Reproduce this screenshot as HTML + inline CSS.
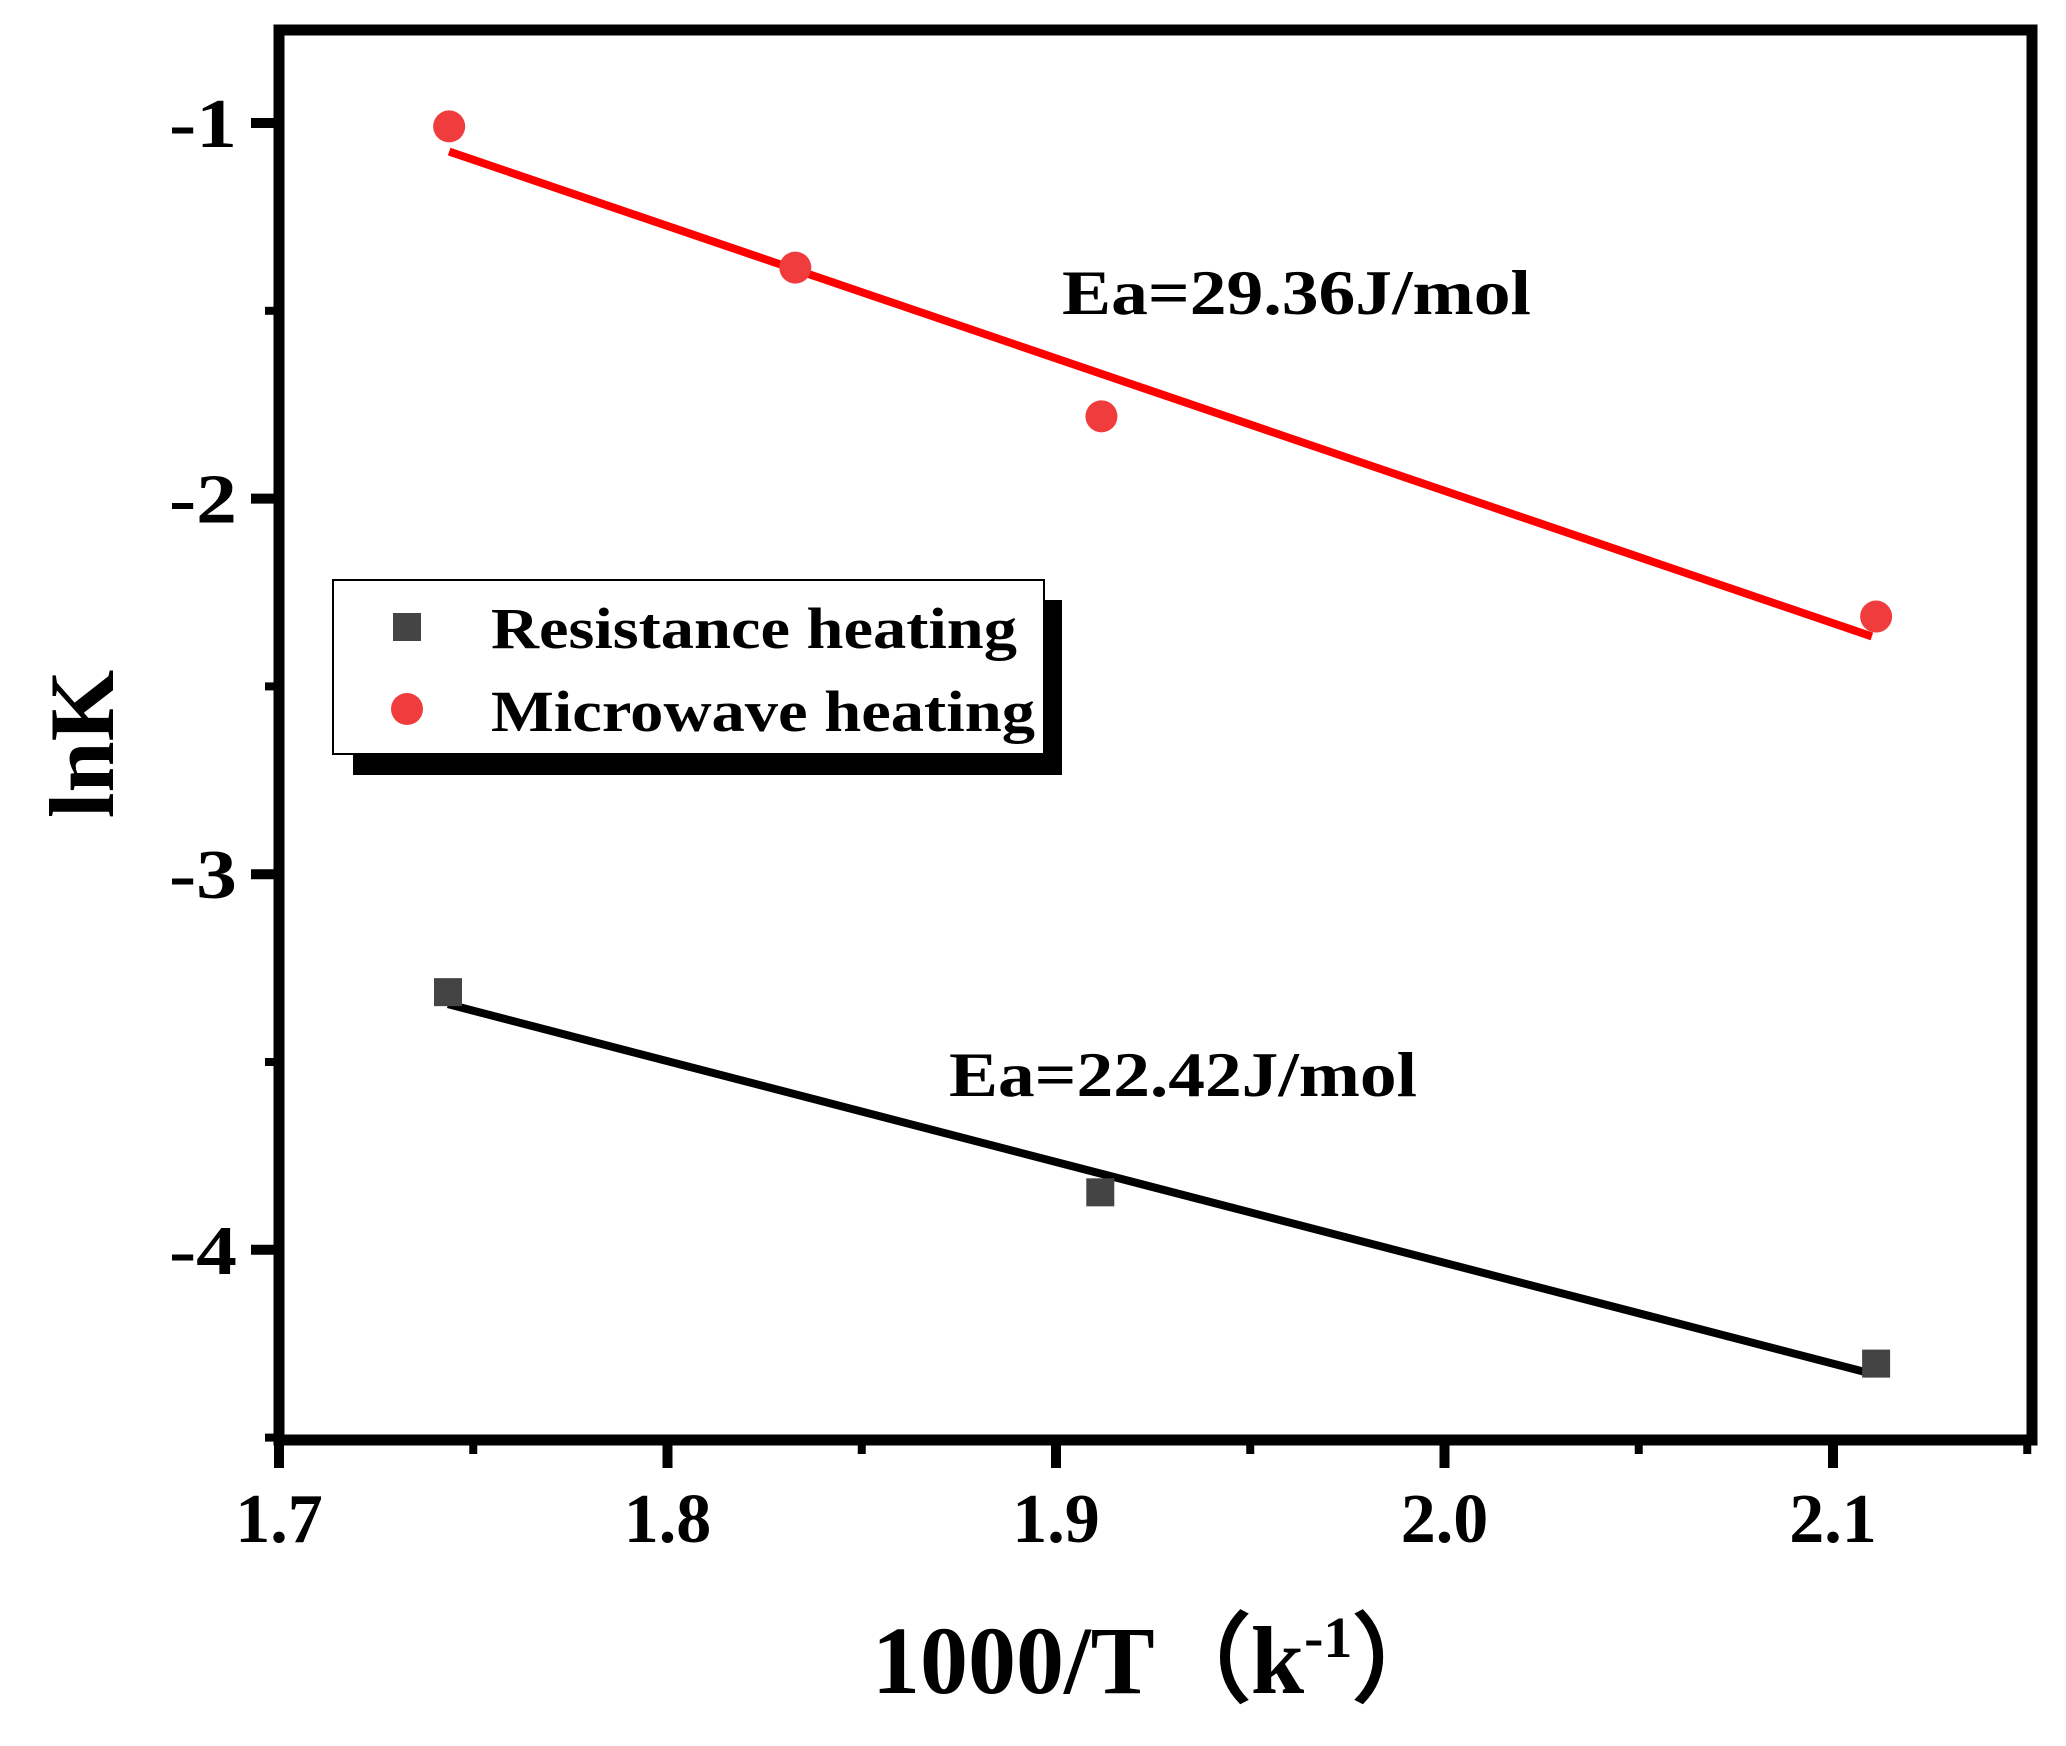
<!DOCTYPE html>
<html><head><meta charset="utf-8"><style>
html,body{margin:0;padding:0;background:#fff;}
svg{display:block;font-family:"Liberation Serif",serif;}
</style></head><body>
<svg id="chart" width="2066" height="1746" viewBox="0 0 2066 1746">
<rect x="0" y="0" width="2066" height="1746" fill="#fff"/>
<g id="marks"></g>
<g id="axes"></g>
</svg>
<script>
const xTicks = [1.7, 1.8, 1.9, 2.0, 2.1];
const xTickLabels = ["1.7", "1.8", "1.9", "2.0", "2.1"];
const yTicks = [-1, -2, -3, -4];
const yTickLabels = ["-1", "-2", "-3", "-4"];
const microX = [1.7438, 1.8329, 1.9117, 2.1111];
const microY = [-1.009, -1.385, -1.781, -2.314];
const microFit = [[1.7438, -1.076], [2.11, -2.367]];
const resistX = [1.7435, 1.9114, 2.1111];
const resistY = [-3.314, -3.847, -4.303];
const resistFit = [[1.7435, -3.346], [2.11, -4.330]];

const L = 279, R = 2032, T = 30, B = 1440;
const X0 = 1.7, XS = 3885;
const Y0 = -1, YP = 123, YS = 375.6;
function sx(v){ return L + (v - X0) * XS; }
function sy(v){ return YP + (Y0 - v) * YS; }
const NS = "http://www.w3.org/2000/svg";
function mk(tag, attrs, parent, text){
  const e = document.createElementNS(NS, tag);
  for (const k in attrs) e.setAttribute(k, attrs[k]);
  if (text !== undefined) e.textContent = text;
  parent.appendChild(e);
  return e;
}
const marks = document.getElementById('marks');
const axes = document.getElementById('axes');

let l1 = mk('line', {x1: sx(microFit[0][0]), y1: sy(microFit[0][1]), x2: sx(microFit[1][0]), y2: sy(microFit[1][1]), stroke: '#ff0000', 'stroke-width': 8}, marks);


let l2 = mk('line', {x1: sx(resistFit[0][0]), y1: sy(resistFit[0][1]), x2: sx(resistFit[1][0]), y2: sy(resistFit[1][1]), stroke: '#000', 'stroke-width': 8}, marks);



microX.forEach((v, i) => {
  const c = mk('circle', {cx: sx(v), cy: sy(microY[i]), r: 16, fill: '#f03c3c'}, marks);
  
  
});
resistX.forEach((v, i) => {
  const s = mk('rect', {x: sx(v) - 14, y: sy(resistY[i]) - 14, width: 28, height: 28, fill: '#444'}, marks);
  
  
});

const fr = mk('rect', {x: L, y: T, width: R - L, height: B - T, fill: 'none', stroke: '#000', 'stroke-width': 11}, axes);



xTicks.forEach((v, i) => {
  const t = mk('line', {x1: sx(v), y1: B, x2: sx(v), y2: B + 28, stroke: '#000', 'stroke-width': 10}, axes);
  
  
  const m = mk('line', {x1: sx(v + 0.05), y1: B, x2: sx(v + 0.05), y2: B + 14, stroke: '#000', 'stroke-width': 8}, axes);
  
  
  const tx = mk('text', {x: sx(v), y: 1542, 'text-anchor': 'middle', 'font-size': 70, 'font-weight': 'bold'}, axes, xTickLabels[i]);
  
  
});
yTicks.forEach((v, i) => {
  const t = mk('line', {x1: L - 28, y1: sy(v), x2: L, y2: sy(v), stroke: '#000', 'stroke-width': 10}, axes);
  
  
  const m = mk('line', {x1: L - 14, y1: sy(v - 0.5), x2: L, y2: sy(v - 0.5), stroke: '#000', 'stroke-width': 8}, axes);
  
  
  const tx = mk('text', {x: 169, y: sy(v) + 24, 'font-size': 70, 'font-weight': 'bold', textLength: 68, lengthAdjust: 'spacingAndGlyphs'}, axes, yTickLabels[i]);
  
  
});
</script>
<svg width="2066" height="1746" style="position:absolute;left:0;top:0">
<g font-family="Liberation Serif, serif" font-weight="bold">
<text x="82" y="744" transform="rotate(-90 82 744)" text-anchor="middle" dominant-baseline="central" font-size="92">lnK</text>
<text x="872" y="1693" font-size="96">1000/T（k<tspan font-size="58" dy="-36">-1</tspan><tspan dy="36">）</tspan></text>
<text x="1062" y="314" font-size="64" textLength="469" lengthAdjust="spacingAndGlyphs">Ea=29.36J/mol</text>
<text x="949" y="1096" font-size="64" textLength="468" lengthAdjust="spacingAndGlyphs">Ea=22.42J/mol</text>
<g>
<rect x="353" y="600" width="709" height="175" fill="#000"/>
<rect x="333" y="580" width="711" height="174" fill="#fff" stroke="#000" stroke-width="2"/>
<rect x="393" y="613" width="28" height="28" fill="#444"/>
<text x="491" y="648" font-size="58" textLength="526" lengthAdjust="spacingAndGlyphs">Resistance heating</text>
<circle cx="407" cy="709" r="16" fill="#f03c3c"/>
<text x="491" y="731" font-size="58" textLength="544" lengthAdjust="spacingAndGlyphs">Microwave heating</text>
</g>
</g>
</svg>
</body></html>
